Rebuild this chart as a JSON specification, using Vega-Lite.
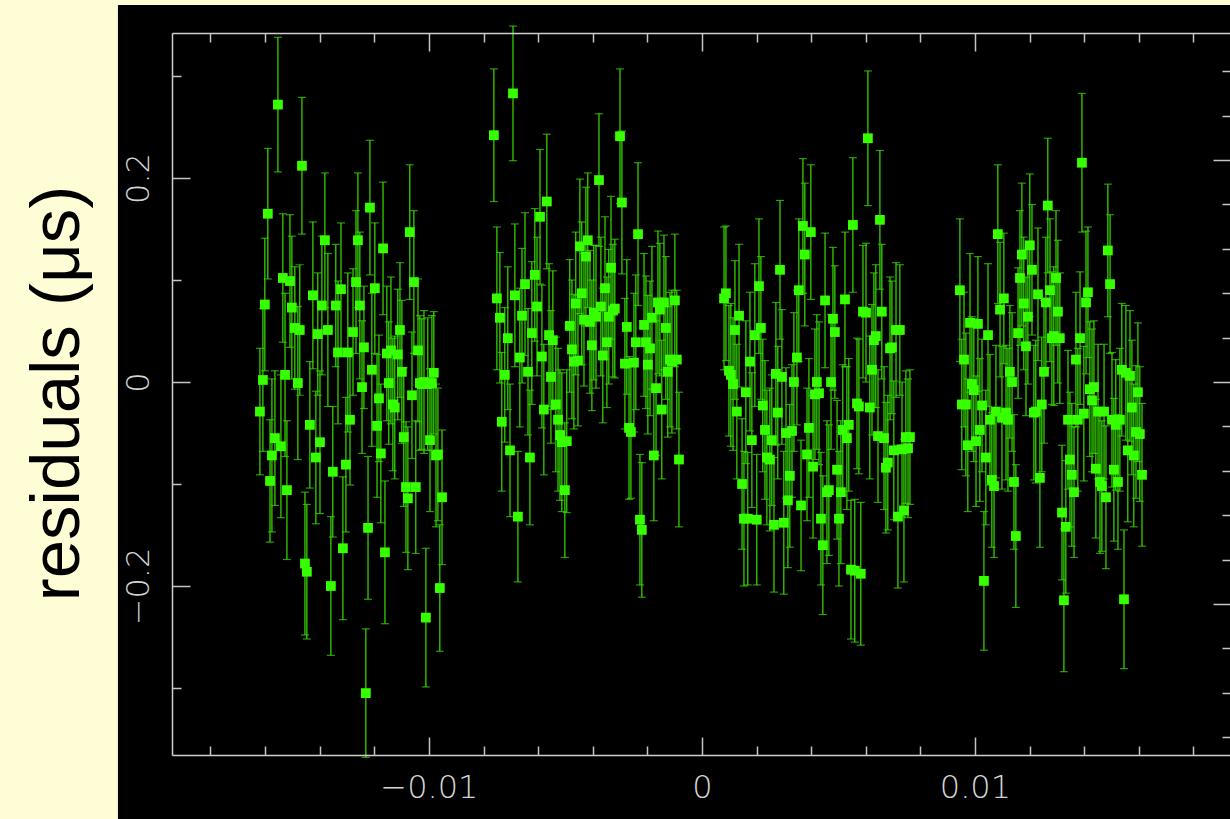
{
"$schema": "https://vega.github.io/schema/vega-lite/v6.json",
"autosize": {"type": "none"},
"width": 1059,
"height": 722,
"padding": {"left": 172, "top": 33, "right": 0, "bottom": 64},
"background": "#FEFDD6",
"config": {
  "view": {"stroke": null},
  "axis": {"grid": false, "zindex": 2, "domainColor": "#cfcfcf", "domainWidth": 1.5, "tickColor": "#c4c4c4", "tickWidth": 1.5, "labelColor": "#d4d4d4", "labelFont": "DejaVu Sans", "labelFontWeight": 200, "labelFontSize": 32}
},
"resolve": {"axis": {"x": "independent", "y": "independent"}},
"datasets": {
  "panel": [{"x1": -0.02139, "x2": 0.0214, "y1": -0.43, "y2": 0.3696}],
  "res": [
{"t":-0.01619,"r":-0.029,"e":0.062},{"t":-0.01608,"r":0.002,"e":0.07},{"t":-0.01601,"r":0.076,"e":0.065},{"t":-0.0159,"r":0.165,"e":0.064},{"t":-0.01582,"r":-0.097,"e":0.06},
{"t":-0.01575,"r":-0.072,"e":0.075},{"t":-0.01564,"r":-0.055,"e":0.066},{"t":-0.01553,"r":0.272,"e":0.066},{"t":-0.01542,"r":-0.063,"e":0.07},{"t":-0.01535,"r":0.102,"e":0.063},
{"t":-0.01527,"r":0.007,"e":0.08},{"t":-0.0152,"r":-0.106,"e":0.068},{"t":-0.01509,"r":0.099,"e":0.065},{"t":-0.01502,"r":0.073,"e":0.07},{"t":-0.01491,"r":0.053,"e":0.06},
{"t":-0.0148,"r":-0.001,"e":0.075},{"t":-0.01473,"r":0.051,"e":0.064},{"t":-0.01465,"r":0.212,"e":0.067},{"t":-0.01454,"r":-0.178,"e":0.07},{"t":-0.01447,"r":-0.186,"e":0.066},
{"t":-0.01436,"r":-0.042,"e":0.062},{"t":-0.01425,"r":0.085,"e":0.072},{"t":-0.01414,"r":-0.074,"e":0.065},{"t":-0.01407,"r":0.047,"e":0.06},{"t":-0.01399,"r":-0.059,"e":0.07},
{"t":-0.01392,"r":0.075,"e":0.068},{"t":-0.01381,"r":0.139,"e":0.066},{"t":-0.0137,"r":0.051,"e":0.075},{"t":-0.01359,"r":-0.2,"e":0.068},{"t":-0.01352,"r":-0.088,"e":0.064},
{"t":-0.01341,"r":0.075,"e":0.06},{"t":-0.01333,"r":0.029,"e":0.07},{"t":-0.01322,"r":0.091,"e":0.065},{"t":-0.01315,"r":-0.163,"e":0.07},{"t":-0.01304,"r":-0.081,"e":0.066},
{"t":-0.01297,"r":0.029,"e":0.078},{"t":-0.01289,"r":-0.037,"e":0.064},{"t":-0.01278,"r":0.049,"e":0.062},{"t":-0.01267,"r":0.098,"e":0.07},{"t":-0.0126,"r":0.139,"e":0.066},
{"t":-0.01253,"r":0.075,"e":0.072},{"t":-0.01245,"r":-0.005,"e":0.065},{"t":-0.01238,"r":0.034,"e":0.06},{"t":-0.01231,"r":-0.305,"e":0.063},{"t":-0.01223,"r":-0.143,"e":0.07},
{"t":-0.01216,"r":0.171,"e":0.066},{"t":-0.01209,"r":0.012,"e":0.075},{"t":-0.01198,"r":0.092,"e":0.064},{"t":-0.0119,"r":-0.043,"e":0.07},{"t":-0.01183,"r":-0.016,"e":0.062},
{"t":-0.01176,"r":-0.07,"e":0.068},{"t":-0.01168,"r":0.131,"e":0.065},{"t":-0.01161,"r":-0.167,"e":0.07},{"t":-0.01154,"r":0.028,"e":0.066},{"t":-0.01147,"r":-0.001,"e":0.06},
{"t":-0.01139,"r":0.031,"e":0.072},{"t":-0.01132,"r":-0.022,"e":0.065},{"t":-0.01125,"r":-0.025,"e":0.07},{"t":-0.01114,"r":0.027,"e":0.064},{"t":-0.01106,"r":0.051,"e":0.066},
{"t":-0.01099,"r":0.01,"e":0.07},{"t":-0.01092,"r":-0.054,"e":0.068},{"t":-0.01084,"r":-0.103,"e":0.064},{"t":-0.01077,"r":-0.114,"e":0.07},{"t":-0.0107,"r":0.147,"e":0.066},
{"t":-0.01062,"r":-0.013,"e":0.062},{"t":-0.01055,"r":0.098,"e":0.07},{"t":-0.01048,"r":-0.103,"e":0.065},{"t":-0.0104,"r":0.031,"e":0.07},{"t":-0.01033,"r":-0.001,"e":0.066},
{"t":-0.01026,"r":-0.002,"e":0.064},{"t":-0.01018,"r":0.0,"e":0.07},{"t":-0.01011,"r":-0.231,"e":0.068},{"t":-0.01004,"r":-0.002,"e":0.065},{"t":-0.00996,"r":-0.057,"e":0.07},
{"t":-0.00989,"r":-0.001,"e":0.066},{"t":-0.00982,"r":0.009,"e":0.06},{"t":-0.00974,"r":-0.072,"e":0.07},{"t":-0.00967,"r":-0.071,"e":0.065},{"t":-0.0096,"r":-0.202,"e":0.062},
{"t":-0.00952,"r":-0.113,"e":0.066},
{"t":-0.00762,"r":0.242,"e":0.065},{"t":-0.00751,"r":0.082,"e":0.07},{"t":-0.0074,"r":0.063,"e":0.064},{"t":-0.00733,"r":-0.039,"e":0.068},{"t":-0.00722,"r":0.007,"e":0.066},
{"t":-0.00711,"r":0.043,"e":0.07},{"t":-0.00703,"r":-0.067,"e":0.065},{"t":-0.00692,"r":0.283,"e":0.066},{"t":-0.00685,"r":0.085,"e":0.07},{"t":-0.00674,"r":-0.132,"e":0.064},
{"t":-0.00667,"r":0.024,"e":0.068},{"t":-0.00659,"r":0.065,"e":0.066},{"t":-0.00648,"r":0.096,"e":0.07},{"t":-0.00637,"r":0.01,"e":0.062},{"t":-0.0063,"r":-0.074,"e":0.066},
{"t":-0.00623,"r":0.048,"e":0.07},{"t":-0.00612,"r":0.105,"e":0.065},{"t":-0.00604,"r":0.074,"e":0.068},{"t":-0.00593,"r":0.162,"e":0.066},{"t":-0.00586,"r":0.025,"e":0.07},
{"t":-0.00579,"r":-0.027,"e":0.064},{"t":-0.00568,"r":0.177,"e":0.066},{"t":-0.0056,"r":0.046,"e":0.07},{"t":-0.00553,"r":0.005,"e":0.065},{"t":-0.00546,"r":0.041,"e":0.068},
{"t":-0.00535,"r":-0.022,"e":0.066},{"t":-0.00527,"r":-0.037,"e":0.07},{"t":-0.0052,"r":-0.052,"e":0.064},{"t":-0.00513,"r":-0.059,"e":0.068},{"t":-0.00502,"r":-0.106,"e":0.066},
{"t":-0.00495,"r":-0.058,"e":0.07},{"t":-0.00484,"r":0.055,"e":0.065},{"t":-0.00476,"r":0.032,"e":0.068},{"t":-0.00469,"r":0.02,"e":0.066},{"t":-0.00462,"r":0.077,"e":0.07},
{"t":-0.00454,"r":0.021,"e":0.064},{"t":-0.00447,"r":0.133,"e":0.066},{"t":-0.0044,"r":0.087,"e":0.07},{"t":-0.00432,"r":0.061,"e":0.065},{"t":-0.00425,"r":0.123,"e":0.068},
{"t":-0.00418,"r":0.139,"e":0.066},{"t":-0.0041,"r":0.059,"e":0.07},{"t":-0.00403,"r":0.036,"e":0.064},{"t":-0.00396,"r":0.068,"e":0.066},{"t":-0.00388,"r":0.064,"e":0.07},
{"t":-0.00377,"r":0.198,"e":0.065},{"t":-0.0037,"r":0.074,"e":0.068},{"t":-0.00363,"r":0.026,"e":0.066},{"t":-0.00355,"r":0.092,"e":0.07},{"t":-0.00348,"r":0.039,"e":0.064},
{"t":-0.00341,"r":0.064,"e":0.066},{"t":-0.00333,"r":0.112,"e":0.07},{"t":-0.00326,"r":0.07,"e":0.065},{"t":-0.00319,"r":0.072,"e":0.068},{"t":-0.003,"r":0.241,"e":0.066},
{"t":-0.00293,"r":0.176,"e":0.07},{"t":-0.00282,"r":0.018,"e":0.064},{"t":-0.00275,"r":0.054,"e":0.066},{"t":-0.00267,"r":-0.045,"e":0.07},{"t":-0.0026,"r":-0.049,"e":0.065},
{"t":-0.00249,"r":0.019,"e":0.068},{"t":-0.00242,"r":0.039,"e":0.066},{"t":-0.00234,"r":0.145,"e":0.07},{"t":-0.00227,"r":-0.135,"e":0.064},{"t":-0.0022,"r":-0.145,"e":0.066},
{"t":-0.00212,"r":0.056,"e":0.07},{"t":-0.00205,"r":0.039,"e":0.065},{"t":-0.00198,"r":0.017,"e":0.068},{"t":-0.0019,"r":0.033,"e":0.066},{"t":-0.00183,"r":0.063,"e":0.07},
{"t":-0.00176,"r":-0.072,"e":0.064},{"t":-0.00168,"r":-0.006,"e":0.066},{"t":-0.00161,"r":0.078,"e":0.07},{"t":-0.00154,"r":0.071,"e":0.065},{"t":-0.00147,"r":-0.027,"e":0.068},
{"t":-0.00139,"r":0.078,"e":0.066},{"t":-0.00132,"r":0.053,"e":0.07},{"t":-0.00125,"r":0.01,"e":0.064},{"t":-0.00117,"r":0.022,"e":0.066},{"t":-0.0011,"r":0.02,"e":0.07},
{"t":-0.00099,"r":0.08,"e":0.065},{"t":-0.00092,"r":0.022,"e":0.068},{"t":-0.00084,"r":-0.076,"e":0.066},
{"t":0.00081,"r":0.082,"e":0.07},{"t":0.00088,"r":0.087,"e":0.066},{"t":0.00099,"r":0.011,"e":0.064},{"t":0.00106,"r":0.007,"e":0.07},{"t":0.00114,"r":-0.002,"e":0.065},
{"t":0.00121,"r":0.051,"e":0.068},{"t":0.00128,"r":-0.029,"e":0.066},{"t":0.00136,"r":0.065,"e":0.07},{"t":0.00147,"r":-0.1,"e":0.064},{"t":0.00154,"r":-0.134,"e":0.066},
{"t":0.00161,"r":-0.01,"e":0.07},{"t":0.00168,"r":-0.134,"e":0.065},{"t":0.00176,"r":0.02,"e":0.068},{"t":0.00183,"r":-0.057,"e":0.066},{"t":0.00194,"r":0.046,"e":0.07},
{"t":0.00201,"r":-0.135,"e":0.064},{"t":0.00209,"r":0.094,"e":0.066},{"t":0.00216,"r":0.053,"e":0.07},{"t":0.00223,"r":-0.023,"e":0.065},{"t":0.00231,"r":-0.047,"e":0.068},
{"t":0.00238,"r":-0.074,"e":0.066},{"t":0.00249,"r":-0.076,"e":0.07},{"t":0.00256,"r":-0.057,"e":0.064},{"t":0.00264,"r":-0.14,"e":0.066},{"t":0.00271,"r":0.008,"e":0.07},
{"t":0.00278,"r":-0.03,"e":0.065},{"t":0.00286,"r":0.11,"e":0.068},{"t":0.00293,"r":0.005,"e":0.066},{"t":0.003,"r":-0.138,"e":0.07},{"t":0.00308,"r":-0.05,"e":0.064},
{"t":0.00315,"r":-0.116,"e":0.066},{"t":0.00322,"r":-0.092,"e":0.07},{"t":0.0033,"r":-0.048,"e":0.065},{"t":0.00337,"r":0.0,"e":0.068},{"t":0.00348,"r":0.024,"e":0.066},
{"t":0.00355,"r":0.09,"e":0.07},{"t":0.00363,"r":-0.121,"e":0.064},{"t":0.0037,"r":0.153,"e":0.066},{"t":0.00377,"r":0.125,"e":0.07},{"t":0.00385,"r":-0.071,"e":0.065},
{"t":0.00392,"r":-0.045,"e":0.068},{"t":0.00399,"r":0.147,"e":0.066},{"t":0.00407,"r":-0.083,"e":0.07},{"t":0.00414,"r":-0.012,"e":0.064},{"t":0.00421,"r":0.0,"e":0.066},
{"t":0.00429,"r":-0.011,"e":0.07},{"t":0.00436,"r":-0.134,"e":0.065},{"t":0.00443,"r":-0.16,"e":0.068},{"t":0.00451,"r":0.08,"e":0.066},{"t":0.00458,"r":-0.108,"e":0.07},
{"t":0.00465,"r":-0.106,"e":0.064},{"t":0.00473,"r":0.0,"e":0.066},{"t":0.0048,"r":0.062,"e":0.07},{"t":0.00487,"r":0.049,"e":0.065},{"t":0.00495,"r":-0.086,"e":0.068},
{"t":0.00502,"r":-0.134,"e":0.066},{"t":0.00509,"r":-0.108,"e":0.07},{"t":0.00516,"r":-0.047,"e":0.064},{"t":0.00524,"r":0.081,"e":0.066},{"t":0.00531,"r":-0.055,"e":0.07},
{"t":0.00538,"r":-0.042,"e":0.065},{"t":0.00546,"r":-0.184,"e":0.068},{"t":0.00553,"r":0.154,"e":0.066},{"t":0.0056,"r":-0.185,"e":0.07},{"t":0.00568,"r":-0.021,"e":0.064},
{"t":0.00575,"r":-0.024,"e":0.066},{"t":0.00582,"r":-0.188,"e":0.07},{"t":0.0059,"r":0.069,"e":0.065},{"t":0.00601,"r":0.068,"e":0.068},{"t":0.00608,"r":0.239,"e":0.066},
{"t":0.00615,"r":-0.025,"e":0.07},{"t":0.00623,"r":0.012,"e":0.064},{"t":0.0063,"r":0.041,"e":0.066},{"t":0.00637,"r":0.045,"e":0.07},{"t":0.00645,"r":-0.053,"e":0.065},
{"t":0.00652,"r":0.159,"e":0.068},{"t":0.00659,"r":0.069,"e":0.066},{"t":0.00667,"r":-0.055,"e":0.07},{"t":0.00674,"r":-0.084,"e":0.064},{"t":0.00681,"r":-0.079,"e":0.066},
{"t":0.00689,"r":0.033,"e":0.07},{"t":0.00696,"r":0.034,"e":0.065},{"t":0.00703,"r":-0.067,"e":0.068},{"t":0.00711,"r":0.051,"e":0.066},{"t":0.00718,"r":-0.132,"e":0.07},
{"t":0.00725,"r":0.051,"e":0.064},{"t":0.00733,"r":-0.066,"e":0.066},{"t":0.0074,"r":-0.126,"e":0.07},{"t":0.00747,"r":-0.054,"e":0.065},{"t":0.00755,"r":-0.065,"e":0.068},
{"t":0.00762,"r":-0.054,"e":0.066},
{"t":0.00945,"r":0.09,"e":0.07},{"t":0.00952,"r":-0.022,"e":0.064},{"t":0.0096,"r":0.022,"e":0.066},{"t":0.00967,"r":-0.022,"e":0.07},{"t":0.00974,"r":-0.062,"e":0.065},
{"t":0.00982,"r":0.058,"e":0.068},{"t":0.00989,"r":-0.002,"e":0.066},{"t":0.00996,"r":-0.008,"e":0.07},{"t":0.01004,"r":-0.058,"e":0.064},{"t":0.01011,"r":0.057,"e":0.066},
{"t":0.01018,"r":-0.047,"e":0.07},{"t":0.01026,"r":-0.023,"e":0.065},{"t":0.01033,"r":-0.195,"e":0.068},{"t":0.0104,"r":-0.074,"e":0.066},{"t":0.01048,"r":0.046,"e":0.07},
{"t":0.01055,"r":-0.037,"e":0.064},{"t":0.01062,"r":-0.096,"e":0.066},{"t":0.0107,"r":-0.102,"e":0.07},{"t":0.01077,"r":-0.029,"e":0.065},{"t":0.01084,"r":0.145,"e":0.068},
{"t":0.01092,"r":0.071,"e":0.066},{"t":0.01099,"r":-0.035,"e":0.07},{"t":0.01106,"r":0.082,"e":0.064},{"t":0.01114,"r":-0.03,"e":0.066},{"t":0.01121,"r":-0.037,"e":0.07},
{"t":0.01128,"r":0.01,"e":0.065},{"t":0.01136,"r":0.0,"e":0.068},{"t":0.01143,"r":-0.098,"e":0.066},{"t":0.0115,"r":-0.151,"e":0.07},{"t":0.01158,"r":0.048,"e":0.064},
{"t":0.01165,"r":0.102,"e":0.066},{"t":0.01172,"r":0.125,"e":0.07},{"t":0.01179,"r":0.077,"e":0.065},{"t":0.01187,"r":0.035,"e":0.068},{"t":0.01194,"r":0.064,"e":0.066},
{"t":0.01201,"r":0.134,"e":0.07},{"t":0.01209,"r":0.11,"e":0.064},{"t":0.01216,"r":-0.03,"e":0.066},{"t":0.01223,"r":-0.029,"e":0.07},{"t":0.01231,"r":0.086,"e":0.065},
{"t":0.01238,"r":-0.094,"e":0.068},{"t":0.01245,"r":-0.022,"e":0.066},{"t":0.01253,"r":0.01,"e":0.07},{"t":0.0126,"r":0.078,"e":0.064},{"t":0.01267,"r":0.173,"e":0.066},
{"t":0.01275,"r":0.09,"e":0.07},{"t":0.01282,"r":0.043,"e":0.065},{"t":0.01289,"r":0.045,"e":0.068},{"t":0.01297,"r":0.102,"e":0.066},{"t":0.01304,"r":0.069,"e":0.07},
{"t":0.01311,"r":0.043,"e":0.064},{"t":0.01319,"r":-0.128,"e":0.066},{"t":0.01326,"r":-0.214,"e":0.07},{"t":0.01333,"r":-0.142,"e":0.065},{"t":0.01341,"r":-0.037,"e":0.068},
{"t":0.01348,"r":-0.076,"e":0.066},{"t":0.01355,"r":-0.091,"e":0.07},{"t":0.01363,"r":-0.108,"e":0.064},{"t":0.0137,"r":0.022,"e":0.066},{"t":0.01377,"r":-0.037,"e":0.07},
{"t":0.01385,"r":0.043,"e":0.065},{"t":0.01392,"r":0.215,"e":0.068},{"t":0.01399,"r":-0.031,"e":0.066},{"t":0.01407,"r":0.078,"e":0.07},{"t":0.01414,"r":0.088,"e":0.064},
{"t":0.01421,"r":-0.007,"e":0.066},{"t":0.01429,"r":-0.018,"e":0.07},{"t":0.01436,"r":-0.005,"e":0.065},{"t":0.01443,"r":-0.085,"e":0.068},{"t":0.01451,"r":-0.029,"e":0.066},
{"t":0.01458,"r":-0.098,"e":0.07},{"t":0.01465,"r":-0.102,"e":0.064},{"t":0.01473,"r":-0.029,"e":0.066},{"t":0.0148,"r":-0.113,"e":0.07},{"t":0.01487,"r":0.129,"e":0.065},
{"t":0.01495,"r":0.096,"e":0.068},{"t":0.01502,"r":-0.037,"e":0.066},{"t":0.01509,"r":-0.086,"e":0.07},{"t":0.01516,"r":-0.042,"e":0.064},{"t":0.01524,"r":-0.098,"e":0.066},
{"t":0.01531,"r":-0.037,"e":0.07},{"t":0.01538,"r":0.012,"e":0.065},{"t":0.01546,"r":-0.213,"e":0.068},{"t":0.01553,"r":0.009,"e":0.066},{"t":0.0156,"r":-0.067,"e":0.07},
{"t":0.01568,"r":0.006,"e":0.064},{"t":0.01575,"r":-0.025,"e":0.066},{"t":0.01582,"r":-0.072,"e":0.07},{"t":0.0159,"r":-0.049,"e":0.065},{"t":0.01597,"r":-0.01,"e":0.068},
{"t":0.01604,"r":-0.051,"e":0.066},{"t":0.01612,"r":-0.091,"e":0.07}
  ]
},
"layer": [
  {
    "data": {"name": "panel"},
    "mark": {"type": "rect", "color": "#000000"},
    "encoding": {
      "x": {"field": "x1", "type": "quantitative", "scale": {"domain": [-0.01941, 0.01938], "nice": false, "zero": false},
            "axis": {"orient": "bottom", "zindex": 2, "values": [-0.01, 0, 0.01], "format": "~g", "tickSize": -18, "labelPadding": 35, "domain": true, "title": null}},
      "x2": {"field": "x2"},
      "y": {"field": "y1", "type": "quantitative", "scale": {"domain": [-0.3657, 0.3422], "nice": false, "zero": false},
            "axis": {"orient": "left", "zindex": 2, "values": [-0.2, 0, 0.2], "format": "~g", "tickSize": -18, "labelPadding": 42, "labelAngle": -90, "labelAlign": "center", "labelBaseline": "alphabetic", "domain": true,
                     "title": "residuals (μs)", "titleFont": "Liberation Sans", "titleFontSize": 69, "titleFontWeight": "normal", "titleColor": "#000000", "titleAngle": -90, "titleAlign": "center", "titleBaseline": "alphabetic", "titleX": -94, "titleY": 360}},
      "y2": {"field": "y2"}
    }
  },
  {
    "data": {"name": "res"},
    "mark": {"type": "errorbar", "ticks": {"size": 8}, "color": "#38e000", "thickness": 1.2},
    "encoding": {
      "x": {"field": "t", "type": "quantitative", "scale": {"domain": [-0.01941, 0.01938], "nice": false, "zero": false},
            "axis": {"orient": "top", "zindex": 2, "values": [-0.01, 0, 0.01], "tickSize": -18, "labels": false, "domain": true, "title": null}},
      "y": {"field": "r", "type": "quantitative", "scale": {"domain": [-0.3657, 0.3422], "nice": false, "zero": false},
            "axis": {"orient": "right", "zindex": 2, "values": [-0.2176, 0, 0.2176], "tickSize": -18, "labels": false, "domain": true, "title": null}},
      "yError": {"field": "e"}
    }
  },
  {
    "data": {"name": "res"},
    "mark": {"type": "square", "size": 95, "filled": true, "color": "#36ff00", "opacity": 1},
    "encoding": {
      "x": {"field": "t", "type": "quantitative", "scale": {"domain": [-0.01941, 0.01938], "nice": false, "zero": false},
            "axis": {"orient": "bottom", "zindex": 2, "values": [-0.018, -0.016, -0.014, -0.012, -0.008, -0.006, -0.004, -0.002, 0.002, 0.004, 0.006, 0.008, 0.012, 0.014, 0.016, 0.018], "tickSize": -9, "labels": false, "domain": false, "title": null}},
      "y": {"field": "r", "type": "quantitative", "scale": {"domain": [-0.3657, 0.3422], "nice": false, "zero": false},
            "axis": {"orient": "left", "zindex": 2, "values": [-0.3, -0.1, 0.1, 0.3], "tickSize": -9, "labels": false, "domain": false, "title": null}}
    }
  },
  {
    "data": {"name": "res"},
    "mark": {"type": "point", "opacity": 0},
    "encoding": {
      "x": {"field": "t", "type": "quantitative", "scale": {"domain": [-0.01941, 0.01938], "nice": false, "zero": false},
            "axis": {"orient": "top", "zindex": 2, "values": [-0.018, -0.016, -0.014, -0.012, -0.008, -0.006, -0.004, -0.002, 0.002, 0.004, 0.006, 0.008, 0.012, 0.014, 0.016, 0.018], "tickSize": -9, "labels": false, "domain": false, "title": null}},
      "y": {"field": "r", "type": "quantitative", "scale": {"domain": [-0.3657, 0.3422], "nice": false, "zero": false},
            "axis": {"orient": "right", "zindex": 2, "values": [-0.3482, -0.3047, -0.2612, -0.1741, -0.1306, -0.0871, -0.0435, 0.0435, 0.0871, 0.1306, 0.1741, 0.2612, 0.3047], "tickSize": -9, "labels": false, "domain": false, "title": null}}
    }
  }
]
}
